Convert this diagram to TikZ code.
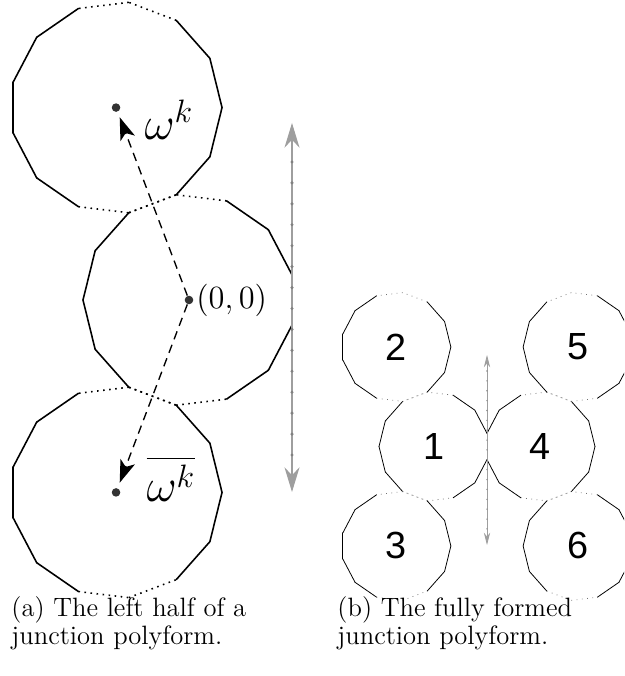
\documentclass[tikz,border=0pt]{standalone}
\usepackage{amsmath}
\usepackage{fontspec}
\newfontfamily\digitfont{Liberation Sans}
\usetikzlibrary{arrows.meta,calc}

\newcommand{\tdgon}[5]{%
  \foreach \j in {0,1,4,5,6,7,8,11,12}
    \draw[#4] ($(#1)+({#3+\j*360/13}:#2)$) -- ($(#1)+({#3+(\j+1)*360/13}:#2)$);
  \foreach \j in {2,3,9,10}
    \draw[#5] ($(#1)+({#3+\j*360/13}:#2)$) -- ($(#1)+({#3+(\j+1)*360/13}:#2)$);
}

\begin{document}
\begin{tikzpicture}[x=0.4444pt,y=0.4444pt,
    dot/.style={circle,fill=black!80,inner sep=0pt,minimum size=3.8pt},
    edgea/.style={line width=0.7pt,line cap=round},
    dotsa/.style={line width=0.7pt,dotted},
    edgeb/.style={line width=0.35pt,line cap=round},
    dotsb/.style={line width=0.35pt,black!55,dotted},
    moveto/.style={line width=0.6pt,dash pattern=on 3.8pt off 2.6pt,-{Stealth[length=10pt,width=6.8pt,inset=2.5pt]},shorten >=2.5pt},
    shifta/.style={black!38,line width=0.5pt,{Stealth[length=11pt,width=6.7pt]}-{Stealth[length=11pt,width=6.7pt]}},
    shiftb/.style={black!38,line width=0.35pt,{Stealth[length=5.5pt,width=2.8pt]}-{Stealth[length=5.5pt,width=2.8pt]}},
    numlabel/.style={font=\digitfont\fontsize{16.8}{20}\selectfont,inner sep=0pt},
    caption/.style={anchor=base west,inner sep=0pt,align=left,font=\fontsize{11.8}{13.3}\selectfont}]
  \useasboundingbox (0,0) rectangle (624,676);
  \clip (0,0) rectangle (624,676);

  % (a) left half
  \coordinate (o) at (189,376);
  \coordinate (wk) at ($(o)+({4*360/13}:205.8)$);
  \coordinate (wkbar) at ($(o)+({-4*360/13}:205.8)$);
  \tdgon{o}{106}{180}{edgea}{dotsa}
  \tdgon{wk}{106}{0}{edgea}{dotsa}
  \tdgon{wkbar}{106}{0}{edgea}{dotsa}

  \coordinate (ta) at (292,553);
  \coordinate (tb) at (292,184);
  \draw[shifta] (ta) -- (tb);
  \foreach \k in {0,...,14}
    \fill[black!50] ($(ta)!{(39+\k*20.93)/369}!(tb)$) circle (0.75pt);

  \node[dot] (p0) at (o) {};
  \node[dot] (p1) at (wk) {};
  \node[dot] (p2) at (wkbar) {};
  \draw[moveto] (p0) -- (p1);
  \draw[moveto] (p0) -- (p2);
  \node[font=\fontsize{19.5}{22}\selectfont] (lwk) at ($(wk)+(53,-12)$) {$\omega^k$};
  \node[font=\fontsize{19.5}{22}\selectfont] (lwkbar) at ($(wkbar)+(55,14)$) {$\overline{\omega^k}$};
  \node[anchor=west,inner sep=1pt,font=\fontsize{13.4}{16}\selectfont] (lo) at (p0.east) {$(0,0)$};

  % (b) full polyform
  \coordinate (c1) at (433.8,229.5);
  \coordinate (c4) at (540.2,229.5);
  \coordinate (c2) at ($(c1)+({4*360/13}:106.4)$);
  \coordinate (c3) at ($(c1)+({-4*360/13}:106.4)$);
  \coordinate (c5) at ($(c4)+({180-4*360/13}:106.4)$);
  \coordinate (c6) at ($(c4)+({180+4*360/13}:106.4)$);
  \tdgon{c1}{54.8}{180}{edgeb}{dotsb}
  \tdgon{c2}{54.8}{0}{edgeb}{dotsb}
  \tdgon{c3}{54.8}{0}{edgeb}{dotsb}
  \tdgon{c4}{54.8}{0}{edgeb}{dotsb}
  \tdgon{c5}{54.8}{180}{edgeb}{dotsb}
  \tdgon{c6}{54.8}{180}{edgeb}{dotsb}

  \coordinate (ba) at (487,321);
  \coordinate (bb) at (487,131);
  \draw[shiftb] (ba) -- (bb);
  \foreach \k in {0,...,16}
    \fill[black!45] ($(ba)!{(16+\k*9.87)/190}!(bb)$) circle (0.35pt);

  \foreach \n in {1,...,6}
    \node[numlabel] (n\n) at (c\n) {\n};

  \node[caption] (capa1) at (11,59) {(a) The left half of a};
  \node[caption] (capa2) at (11,31) {junction polyform.};
  \node[caption] (capb1) at (337,59) {(b) The fully formed};
  \node[caption] (capb2) at (337,31) {junction polyform.};
\end{tikzpicture}
\end{document}
